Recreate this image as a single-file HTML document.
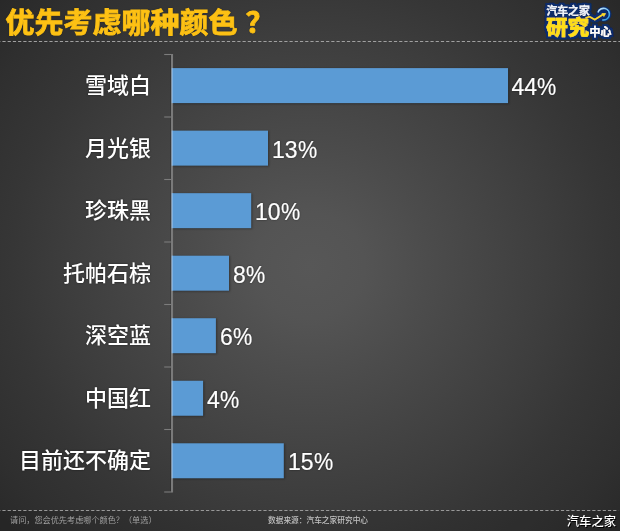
<!DOCTYPE html>
<html lang="zh-CN">
<head>
<meta charset="utf-8">
<title>优先考虑哪种颜色？</title>
<style>
html,body{margin:0;padding:0;}
body{width:620px;height:531px;overflow:hidden;background:#2b2b2b;font-family:"Liberation Sans","Noto Sans CJK SC",sans-serif;}
#chart{position:relative;width:620px;height:531px;overflow:hidden;
  background:radial-gradient(ellipse 420px 404px at 310px 266px,#575757 0,#545454 13%,#4c4c4c 28%,#444444 44%,#3d3d3d 58%,#363636 71%,#2f2f2f 87%,#282828 100%);}
.ftr{position:absolute;left:0;top:511px;width:620px;height:20px;background:rgba(20,20,20,.12);}
.dash{position:absolute;left:0;top:0;width:620px;height:531px;pointer-events:none;}
.title{position:absolute;left:5.6px;top:3px;height:41px;line-height:41px;font-size:29px;font-weight:bold;color:#fdc114;white-space:nowrap;
  transform:scaleY(.97);transform-origin:0 50%;-webkit-text-stroke:.85px #fdc114;text-shadow:0 0 2px rgba(0,0,0,.5);}
.title .q{position:relative;left:7.8px;}
#plot{position:absolute;left:0;top:0;width:620px;height:531px;}
.lab{position:absolute;right:468.9px;height:35px;line-height:35px;font-size:22px;font-weight:500;color:#fff;white-space:nowrap;text-shadow:0 0 2px rgba(0,0,0,.6);}
.val{position:absolute;height:35px;line-height:35px;font-size:23px;color:#fff;white-space:nowrap;text-shadow:0 0 2px rgba(0,0,0,.6);-webkit-text-stroke:.2px #fff;}
.val i{font-style:normal;display:inline-block;transform:scaleX(.94);transform-origin:0 50%;}
.f1{position:absolute;left:10px;top:514.2px;font-size:16.3px;line-height:24px;color:#a0a0a0;white-space:nowrap;transform:scale(.5);transform-origin:0 0;}
.f2{position:absolute;left:267.6px;top:514.4px;font-size:15.4px;line-height:24px;color:#c0c0c0;font-weight:500;white-space:nowrap;transform:scale(.5);transform-origin:0 0;}
.wm{position:absolute;left:566.8px;top:514.5px;font-size:12.3px;line-height:14px;color:#fff;font-weight:500;white-space:nowrap;text-shadow:1px 1px 0 #000;}
#logo{position:absolute;left:540px;top:0;width:80px;height:41px;overflow:visible;}
#logo text{font-family:"Liberation Sans","Noto Sans CJK SC",sans-serif;paint-order:stroke fill;stroke:#0b2860;stroke-linejoin:round;}
</style>
</head>
<body>
<div id="chart">
  <div class="ftr"></div>
  <svg class="dash" viewBox="0 0 620 531">
    <line x1="-2.8" y1="41.5" x2="620" y2="41.5" stroke="#a0a0a0" stroke-width="1.05" stroke-dasharray="3.2 2.02"/>
    <line x1="-2.8" y1="510.5" x2="618.5" y2="510.5" stroke="#989898" stroke-width="1" stroke-dasharray="3.2 2.02"/>
  </svg>
  <div class="title">优先考虑哪种颜色<span class="q">？</span></div>

  <svg id="logo" viewBox="0 0 80 41">
    <defs>
      <linearGradient id="rg" x1="0" y1="0" x2="1" y2="1">
        <stop offset="0" stop-color="#d4edfc"/>
        <stop offset=".5" stop-color="#6fc0f3"/>
        <stop offset="1" stop-color="#1f93e6"/>
      </linearGradient>
      <filter id="ol" x="-10%" y="-20%" width="120%" height="140%">
        <feMorphology in="SourceAlpha" operator="dilate" radius="1.6" result="d"/>
        <feGaussianBlur in="d" stdDeviation=".4" result="db"/>
        <feFlood flood-color="#0c2d6c"/>
        <feComposite in2="db" operator="in" result="o"/>
        <feMerge><feMergeNode in="o"/><feMergeNode in="o"/><feMergeNode in="SourceGraphic"/></feMerge>
      </filter>
    </defs>
    <circle cx="63.8" cy="14.1" r="7.7" fill="#0c2d6c"/>
    <path d="M58 12.46 A5.85 5.85 0 1 1 62.3 19.9" fill="none" stroke="url(#rg)" stroke-width="1.6"/>
    <g filter="url(#ol)">
      <text x="6.5" y="14.9" font-size="10.8" font-weight="700" fill="#eef4fc" stroke-width=".1" style="stroke:#eef4fc">汽车之家</text>
      <text transform="translate(6.3 35) scale(1.02 .96)" font-size="21" font-weight="900" fill="#ffde17" stroke-width=".5" style="stroke:#ffde17">研究</text>
      <text x="49.5" y="35.8" font-size="10.9" font-weight="700" fill="#fff" stroke-width=".2" style="stroke:#fff">中心</text>
      <path d="M45.5 18.2 L49.4 16.6 L54.8 19.7 L63.1 14.4" fill="none" stroke="#ffde17" stroke-width="1.4" stroke-linejoin="round"/>
      <path d="M65.9 13.3 L61.7 13.2 L63.9 16.8 Z" fill="#ffde17"/>
    </g>
  </svg>

  <svg id="plot" viewBox="0 0 620 531">
    <defs><filter id="sh" x="-5%" y="-20%" width="110%" height="140%"><feGaussianBlur stdDeviation="1.1"/></filter></defs>
    <g fill="#000" opacity=".34" filter="url(#sh)">
      <rect x="172.4" y="68.60" width="336.65" height="35.3"/>
      <rect x="172.4" y="131.13" width="96.60" height="35.3"/>
      <rect x="172.4" y="193.66" width="79.80" height="35.3"/>
      <rect x="172.4" y="256.19" width="57.60" height="35.3"/>
      <rect x="172.4" y="318.72" width="44.50" height="35.3"/>
      <rect x="172.4" y="381.25" width="31.70" height="35.3"/>
      <rect x="172.4" y="443.78" width="112.40" height="35.3"/>
    </g>
    <rect x="170.2" y="54" width="1" height="439" fill="#000" opacity=".18"/>
    <rect x="171" y="54" width="2.05" height="438.5" fill="#7a7a7a"/>
    <g fill="#7c7c7c">
      <rect x="164.2" y="53.95" width="7.2" height="1.1"/>
      <rect x="164.2" y="116.45" width="7.2" height="1.1"/>
      <rect x="164.2" y="178.95" width="7.2" height="1.1"/>
      <rect x="164.2" y="241.45" width="7.2" height="1.1"/>
      <rect x="164.2" y="303.95" width="7.2" height="1.1"/>
      <rect x="164.2" y="366.45" width="7.2" height="1.1"/>
      <rect x="164.2" y="428.95" width="7.2" height="1.1"/>
      <rect x="164.2" y="491.45" width="7.2" height="1.1"/>
    </g>
    <g fill="#5b9bd5">
      <rect x="171.8" y="68.10" width="336.25" height="35"/>
      <rect x="171.8" y="130.63" width="96.20" height="35"/>
      <rect x="171.8" y="193.16" width="79.40" height="35"/>
      <rect x="171.8" y="255.69" width="57.20" height="35"/>
      <rect x="171.8" y="318.22" width="44.10" height="35"/>
      <rect x="171.8" y="380.75" width="31.30" height="35"/>
      <rect x="171.8" y="443.28" width="112.00" height="35"/>
    </g>
    <g fill="#a6c8ea" opacity=".75">
      <rect x="171.7" y="68.10" width="1" height="35"/>
      <rect x="171.7" y="130.63" width="1" height="35"/>
      <rect x="171.7" y="193.16" width="1" height="35"/>
      <rect x="171.7" y="255.69" width="1" height="35"/>
      <rect x="171.7" y="318.22" width="1" height="35"/>
      <rect x="171.7" y="380.75" width="1" height="35"/>
      <rect x="171.7" y="443.28" width="1" height="35"/>
    </g>
  </svg>

  <div class="lab" style="top:68px">雪域白</div>
  <div class="lab" style="top:131px">月光银</div>
  <div class="lab" style="top:193px">珍珠黑</div>
  <div class="lab" style="top:256px">托帕石棕</div>
  <div class="lab" style="top:318px">深空蓝</div>
  <div class="lab" style="top:381px">中国红</div>
  <div class="lab" style="top:443px">目前还不确定</div>

  <div class="val" style="top:70px;left:511.5px">44<i>%</i></div>
  <div class="val" style="top:133px;left:272px">13<i>%</i></div>
  <div class="val" style="top:195px;left:255px">10<i>%</i></div>
  <div class="val" style="top:258px;left:233px">8<i>%</i></div>
  <div class="val" style="top:320px;left:220px">6<i>%</i></div>
  <div class="val" style="top:383px;left:207px">4<i>%</i></div>
  <div class="val" style="top:445px;left:288px">15<i>%</i></div>

  <div class="f1">请问，您会优先考虑哪个颜色？（单选）</div>
  <div class="f2">数据来源：汽车之家研究中心</div>
  <div class="wm">汽车之家</div>
</div>
</body>
</html>
